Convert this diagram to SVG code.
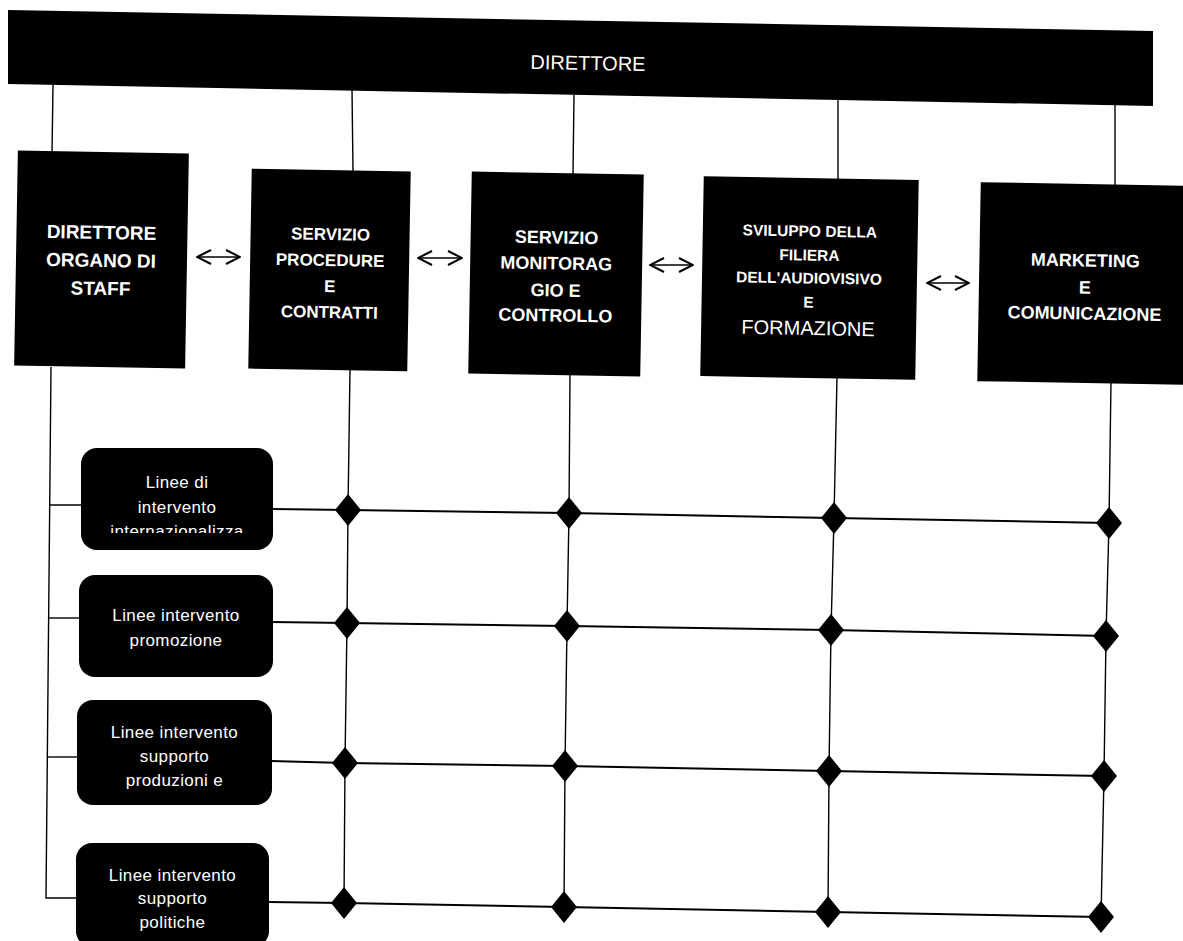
<svg xmlns="http://www.w3.org/2000/svg" width="1183" height="941" viewBox="0 0 1183 941">
<style>
.blk{fill:#000}
.t{fill:#fff;font-family:"Liberation Sans",Arial,sans-serif;text-anchor:middle}
.b{font-weight:bold}
.sm{font-size:17px;letter-spacing:0.4px}
.ln{stroke:#000;fill:none;stroke-width:1.4}
.row{stroke:#000;fill:none;stroke-width:2}
.arr{stroke:#000;fill:none;stroke-width:1.6;marker-start:url(#chev);marker-end:url(#chev)}
</style>
<defs>
<marker id="chev" viewBox="-2 -2 17 18" refX="14" refY="7" markerWidth="17" markerHeight="18" markerUnits="userSpaceOnUse" orient="auto-start-reverse">
<path d="M0,0 L14,7 L0,14" fill="none" stroke="#000" stroke-width="2"/>
</marker>
<path id="dia" d="M0,-16 L13,0 L0,16 L-13,0 Z" fill="#000"/>
<clipPath id="clipL1"><rect x="81" y="440" width="192" height="93"/></clipPath>
</defs>
<rect width="1183" height="941" fill="#fff"/>

<g id="connectors">
<line class="ln" x1="53" y1="85" x2="52" y2="153"/>
<line class="ln" x1="352" y1="90" x2="353" y2="171"/>
<line class="ln" x1="574" y1="95" x2="573" y2="174"/>
<line class="ln" x1="838" y1="100" x2="838" y2="179"/>
<line class="ln" x1="1115" y1="105" x2="1115" y2="185"/>
<line class="arr" x1="197" y1="257" x2="240" y2="257"/>
<line class="arr" x1="418" y1="258" x2="462" y2="258"/>
<line class="arr" x1="650" y1="265" x2="693" y2="265"/>
<line class="arr" x1="927" y1="283" x2="969" y2="283"/>
<polyline class="ln" points="51,367 46,898 77,898"/>
<line class="ln" x1="49.7" y1="505" x2="82" y2="505"/>
<line class="ln" x1="48.6" y1="618" x2="80" y2="618"/>
<line class="ln" x1="47.3" y1="757" x2="78" y2="757"/>
<polyline class="row" points="272,509 348,510 569,513 834,518 1109,523"/>
<polyline class="row" points="272,622 347,623 567,626 831,630 1106,636"/>
<polyline class="row" points="271,761 345,763 565,766 829,771 1104,776"/>
<polyline class="row" points="268,902 344,903 564,907 828,912 1101,917"/>
<polyline class="ln" points="350,369 348,510 347,623 345,763 344,903"/>
<polyline class="ln" points="570,374 569,513 567,626 565,766 564,907"/>
<polyline class="ln" points="837,377 834,518 831,630 829,771 828,912"/>
<polyline class="ln" points="1111,382 1109,523 1106,636 1104,776 1101,917"/>
<use href="#dia" x="348" y="510"/><use href="#dia" x="569" y="513"/><use href="#dia" x="834" y="518"/><use href="#dia" x="1109" y="523"/>
<use href="#dia" x="347" y="623"/><use href="#dia" x="567" y="626"/><use href="#dia" x="831" y="630"/><use href="#dia" x="1106" y="636"/>
<use href="#dia" x="345" y="763"/><use href="#dia" x="565" y="766"/><use href="#dia" x="829" y="771"/><use href="#dia" x="1104" y="776"/>
<use href="#dia" x="344" y="903"/><use href="#dia" x="564" y="907"/><use href="#dia" x="828" y="912"/><use href="#dia" x="1101" y="917"/>
</g>

<g id="direttore">
<polygon class="blk" points="8,10 1153,31 1153,106 8,84"/>
<text class="t" x="588" y="70" font-size="20" transform="rotate(1 588 63)">DIRETTORE</text>
</g>

<g id="staff" transform="rotate(1 101.5 259.5)">
<rect class="blk" x="16" y="152" width="171" height="215"/>
<text class="t b" font-size="19"><tspan x="101" y="239">DIRETTORE</tspan><tspan x="101" y="267">ORGANO DI</tspan><tspan x="101" y="295">STAFF</tspan></text>
</g>

<g id="procedure" transform="rotate(1 329.5 270)">
<rect class="blk" x="250" y="170" width="159" height="200"/>
<text class="t b" font-size="17"><tspan x="330" y="240">SERVIZIO</tspan><tspan x="330" y="266">PROCEDURE</tspan><tspan x="330" y="292">E</tspan><tspan x="330" y="318">CONTRATTI</tspan></text>
</g>

<g id="monitoraggio" transform="rotate(1 556 274)">
<rect class="blk" x="470" y="173" width="172" height="202"/>
<text class="t b" font-size="18"><tspan x="556" y="243.5">SERVIZIO</tspan><tspan x="556" y="269.5">MONITORAG</tspan><tspan x="556" y="296.5">GIO E</tspan><tspan x="556" y="321.5">CONTROLLO</tspan></text>
</g>

<g id="filiera" transform="rotate(1 809.5 278)">
<rect class="blk" x="702" y="178" width="215" height="200"/>
<text class="t b" font-size="15.5"><tspan x="809" y="236.5">SVILUPPO DELLA</tspan><tspan x="809" y="260.5">FILIERA</tspan><tspan x="809" y="283.5">DELL'AUDIOVISIVO</tspan><tspan x="809" y="307.5">E</tspan></text>
<text class="t" font-size="20" x="809" y="335">FORMAZIONE</text>
</g>

<g id="marketing" transform="rotate(1 1085 283.5)">
<rect class="blk" x="979" y="184" width="212" height="199"/>
<text class="t b" font-size="18"><tspan x="1085" y="266.5">MARKETING</tspan><tspan x="1085" y="293.5">E</tspan><tspan x="1085" y="319.5">COMUNICAZIONE</tspan></text>
</g>

<g id="linee-internazionalizzazione">
<rect class="blk" x="81" y="448" width="192" height="102" rx="16"/>
<text class="t sm"><tspan x="177" y="488">Linee di</tspan><tspan x="177" y="513">intervento</tspan></text>
<text class="t sm" x="177" y="537" clip-path="url(#clipL1)">internazionalizza</text>
</g>

<g id="linee-promozione">
<rect class="blk" x="79" y="575" width="194" height="102" rx="16"/>
<text class="t sm"><tspan x="176" y="621">Linee intervento</tspan><tspan x="176" y="646">promozione</tspan></text>
</g>

<g id="linee-produzioni">
<rect class="blk" x="77" y="700" width="195" height="105" rx="16"/>
<text class="t sm"><tspan x="174.5" y="738">Linee intervento</tspan><tspan x="174.5" y="762">supporto</tspan><tspan x="174.5" y="786">produzioni e</tspan></text>
</g>

<g id="linee-politiche">
<rect class="blk" x="76" y="843" width="193" height="104" rx="16"/>
<text class="t sm"><tspan x="172.5" y="881">Linee intervento</tspan><tspan x="172.5" y="904">supporto</tspan><tspan x="172.5" y="928">politiche</tspan></text>
</g>
</svg>
